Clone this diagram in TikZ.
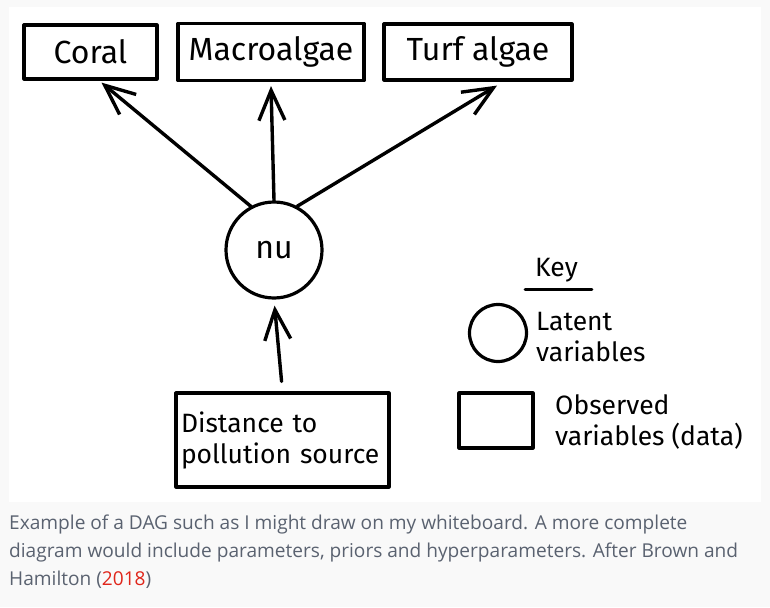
\documentclass[tikz,border=0pt]{standalone}
\usepackage{fontspec}
\setmainfont{Fira Sans}
\newfontfamily\capfont{Open Sans}
\usetikzlibrary{arrows.meta, calc}
\definecolor{pagegray}{HTML}{F9F9F9}
\definecolor{captiongray}{HTML}{5A6270}
\definecolor{linkred}{HTML}{E0261B}
\tikzset{obsbox/.style={draw=black, line width=3.2pt, fill=white, inner sep=0pt, line join=round}}
\tikzset{latent/.style={draw=black, circle, line width=3.2pt, inner sep=0pt}}
\tikzset{dagarrow/.style={line width=3.4pt, line cap=round, -{Straight Barb[length=30pt, width=26pt, line width=3.4pt]}}}
\tikzset{bigtext/.style={font=\fontsize{32}{34}\selectfont}}
\tikzset{keytext/.style={anchor=west, align=left, inner sep=0pt, font=\fontsize{26.5}{31}\selectfont}}

\begin{document}
\begin{tikzpicture}[x=1pt, y=-1pt]
    \newcommand\posTop{52}
    \newcommand\posNu{250}
    \newcommand\posKey{498}

    \useasboundingbox (0, 0) rectangle (770, 607);
    \fill[pagegray] (0, 0) rectangle (770, 607);
    \fill[white] (9, 7) rectangle (761, 502);

    \node[obsbox, bigtext, minimum width=133pt, minimum height=54pt] (coral) at (90.5, \posTop){Coral};
    \node[obsbox, bigtext, minimum width=186pt, minimum height=57pt] (macro) at (271, \posTop){Macroalgae};
    \node[obsbox, bigtext, minimum width=188pt, minimum height=56pt] (turf) at (478, \posTop){Turf algae};

    \node[latent, bigtext, minimum size=96pt] (nu) at (274, \posNu){nu};

    \node[obsbox, keytext, anchor=center, minimum width=213pt, minimum height=94pt, text width=203pt] (dist) at (282.5, 440){Distance to\\pollution source};

    \draw[dagarrow] (nu.118) -- ([xshift=11pt, yshift=-2pt]coral.south);
    \draw[dagarrow] (nu.north) -- ([yshift=-4pt]macro.south);
    \draw[dagarrow] (nu.62) -- ([xshift=19pt, yshift=-4pt]turf.south);
    \draw[dagarrow, shorten <=10pt, shorten >=6pt] (dist.north) -- (nu.south);

    % key
    \node[keytext, anchor=center] (keylab) at (556.5, 270){Key};
    \draw[line width=2.8pt, line cap=round] ([xshift=-10pt, yshift=-7pt]keylab.south west) -- ([xshift=14pt, yshift=-7pt]keylab.south east);
    \node[latent, minimum size=57pt] (keycircle) at (\posKey, 333){};
    \node[keytext] (keylatent) at (536, 337){Latent\\variables};
    \node[obsbox, minimum width=74pt, minimum height=55pt] (keybox) at (\posKey - 2, 420.5){};
    \node[keytext] (keyobserved) at (555, 422){Observed\\variables (data)};

    \node[anchor=north west, align=left, inner sep=0pt, text=captiongray, font=\capfont\fontsize{19.1}{28}\selectfont] (caption) at (9, 515){Example of a DAG such as I might draw on my whiteboard. A more complete\\diagram would include parameters, priors and hyperparameters. After Brown and\\Hamilton ({\color{linkred}2018})};
\end{tikzpicture}
\end{document}
